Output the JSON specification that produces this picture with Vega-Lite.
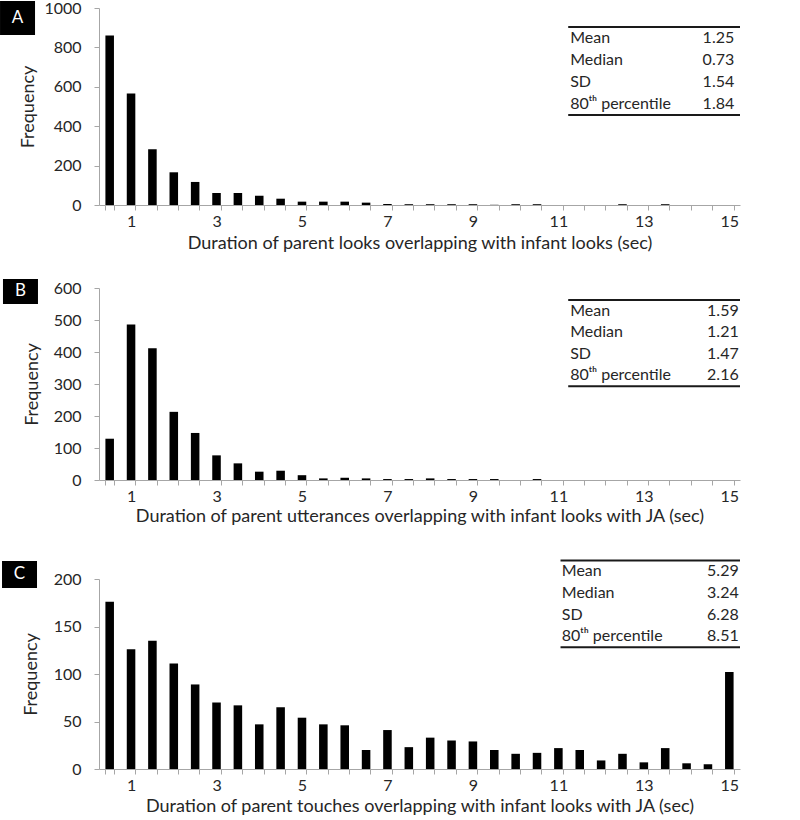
{
  "$schema": "https://vega.github.io/schema/vega-lite/v6.json",
  "padding": 0,
  "background": "white",
  "datasets": {
    "a": [
      {"bin": 0.5, "freq": 861}, {"bin": 1, "freq": 566}, {"bin": 1.5, "freq": 283}, {"bin": 2, "freq": 166},
      {"bin": 2.5, "freq": 117}, {"bin": 3, "freq": 61}, {"bin": 3.5, "freq": 61}, {"bin": 4, "freq": 47},
      {"bin": 4.5, "freq": 32}, {"bin": 5, "freq": 17}, {"bin": 5.5, "freq": 17}, {"bin": 6, "freq": 17},
      {"bin": 6.5, "freq": 12}, {"bin": 7, "freq": 5}, {"bin": 7.5, "freq": 4}, {"bin": 8, "freq": 4},
      {"bin": 8.5, "freq": 4}, {"bin": 9, "freq": 4}, {"bin": 9.5, "freq": 1}, {"bin": 10, "freq": 4},
      {"bin": 10.5, "freq": 4}, {"bin": 11, "freq": 0}, {"bin": 11.5, "freq": 0}, {"bin": 12, "freq": 0},
      {"bin": 12.5, "freq": 4}, {"bin": 13, "freq": 0}, {"bin": 13.5, "freq": 4}, {"bin": 14, "freq": 0},
      {"bin": 14.5, "freq": 0}, {"bin": 15, "freq": 0}
    ],
    "b": [
      {"bin": 0.5, "freq": 129}, {"bin": 1, "freq": 486}, {"bin": 1.5, "freq": 412}, {"bin": 2, "freq": 213},
      {"bin": 2.5, "freq": 147}, {"bin": 3, "freq": 77}, {"bin": 3.5, "freq": 52}, {"bin": 4, "freq": 26},
      {"bin": 4.5, "freq": 29}, {"bin": 5, "freq": 15}, {"bin": 5.5, "freq": 5}, {"bin": 6, "freq": 7},
      {"bin": 6.5, "freq": 5}, {"bin": 7, "freq": 3}, {"bin": 7.5, "freq": 3}, {"bin": 8, "freq": 5},
      {"bin": 8.5, "freq": 3}, {"bin": 9, "freq": 3}, {"bin": 9.5, "freq": 3}, {"bin": 10, "freq": 0},
      {"bin": 10.5, "freq": 3}, {"bin": 11, "freq": 0}, {"bin": 11.5, "freq": 0}, {"bin": 12, "freq": 0},
      {"bin": 12.5, "freq": 0}, {"bin": 13, "freq": 0}, {"bin": 13.5, "freq": 0}, {"bin": 14, "freq": 0},
      {"bin": 14.5, "freq": 0}, {"bin": 15, "freq": 0}
    ],
    "c": [
      {"bin": 0.5, "freq": 176}, {"bin": 1, "freq": 126}, {"bin": 1.5, "freq": 135}, {"bin": 2, "freq": 111},
      {"bin": 2.5, "freq": 89}, {"bin": 3, "freq": 70}, {"bin": 3.5, "freq": 67}, {"bin": 4, "freq": 47},
      {"bin": 4.5, "freq": 65}, {"bin": 5, "freq": 54}, {"bin": 5.5, "freq": 47}, {"bin": 6, "freq": 46},
      {"bin": 6.5, "freq": 20}, {"bin": 7, "freq": 41}, {"bin": 7.5, "freq": 23}, {"bin": 8, "freq": 33},
      {"bin": 8.5, "freq": 30}, {"bin": 9, "freq": 29}, {"bin": 9.5, "freq": 20}, {"bin": 10, "freq": 16},
      {"bin": 10.5, "freq": 17}, {"bin": 11, "freq": 22}, {"bin": 11.5, "freq": 20}, {"bin": 12, "freq": 9},
      {"bin": 12.5, "freq": 16}, {"bin": 13, "freq": 7}, {"bin": 13.5, "freq": 22}, {"bin": 14, "freq": 6},
      {"bin": 14.5, "freq": 5}, {"bin": 15, "freq": 102}
    ],
    "statsA": [
      {"stat": "Mean", "value": "1.25", "row": 1},
      {"stat": "Median", "value": "0.73", "row": 2},
      {"stat": "SD", "value": "1.54", "row": 3},
      {"stat": "80ᵗʰ percentile", "value": "1.84", "row": 4}
    ],
    "statsB": [
      {"stat": "Mean", "value": "1.59", "row": 1},
      {"stat": "Median", "value": "1.21", "row": 2},
      {"stat": "SD", "value": "1.47", "row": 3},
      {"stat": "80ᵗʰ percentile", "value": "2.16", "row": 4}
    ],
    "statsC": [
      {"stat": "Mean", "value": "5.29", "row": 1},
      {"stat": "Median", "value": "3.24", "row": 2},
      {"stat": "SD", "value": "6.28", "row": 3},
      {"stat": "80ᵗʰ percentile", "value": "8.51", "row": 4}
    ],
    "lines": [{"line": 0.5}, {"line": 4.5}]
  },
  "spacing": 26,
  "vconcat": [
    {
      "width": 641, "height": 197,
      "resolve": {"scale": {"x": "independent", "y": "independent"}},
      "layer": [
        {
          "data": {"name": "a"},
          "mark": {"type": "bar", "color": "black"},
          "encoding": {
            "x": {"field": "bin", "type": "ordinal", "scale": {"paddingInner": 0.6, "paddingOuter": 0.3},
              "axis": {"title": "Duration of parent looks overlapping with infant looks (sec)", "tickBand": "extent", "labelExpr": "datum.value % 2 == 1 ? datum.label : ''", "labelAngle": 0, "labelOverlap": false, "titlePadding": 5}},
            "y": {"field": "freq", "type": "quantitative", "scale": {"domain": [0, 1000]},
              "axis": {"title": "Frequency", "values": [0, 200, 400, 600, 800, 1000], "format": "d", "titlePadding": 6}}
          }
        },
        {
          "data": {"name": "statsA"},
          "mark": {"type": "text", "align": "left", "baseline": "middle", "fontSize": 16, "color": "#262626"},
          "encoding": {
            "x": {"datum": 0.735, "type": "quantitative", "scale": {"domain": [0, 1]}, "axis": null},
            "y": {"field": "row", "type": "quantitative", "scale": {"domain": [-0.364, 8.59], "reverse": true}, "axis": null},
            "text": {"field": "stat"}
          }
        },
        {
          "data": {"name": "statsA"},
          "mark": {"type": "text", "align": "right", "baseline": "middle", "fontSize": 16, "color": "#262626"},
          "encoding": {
            "x": {"datum": 0.991, "type": "quantitative", "scale": {"domain": [0, 1]}, "axis": null},
            "y": {"field": "row", "type": "quantitative", "scale": {"domain": [-0.364, 8.59], "reverse": true}, "axis": null},
            "text": {"field": "value"}
          }
        },
        {
          "data": {"name": "lines"},
          "mark": {"type": "rule", "color": "#1a1a1a", "strokeWidth": 2},
          "encoding": {
            "x": {"datum": 0.732, "type": "quantitative", "scale": {"domain": [0, 1]}, "axis": null},
            "x2": {"datum": 1.0},
            "y": {"field": "line", "type": "quantitative", "scale": {"domain": [-0.364, 8.59], "reverse": true}, "axis": null}
          }
        },
        {
          "data": {"values": [{"panel": "A"}]},
          "mark": {"type": "rect", "color": "black"},
          "encoding": {
            "x": {"datum": -0.1544, "type": "quantitative", "scale": {"domain": [0, 1]}, "axis": null},
            "x2": {"datum": -0.0998},
            "y": {"datum": -0.0355, "type": "quantitative", "scale": {"domain": [0, 1], "reverse": true}, "axis": null},
            "y2": {"datum": 0.137}
          }
        },
        {
          "data": {"values": [{"panel": "A"}]},
          "mark": {"type": "text", "color": "white", "fontSize": 17, "align": "center", "baseline": "middle"},
          "encoding": {
            "x": {"datum": -0.1271, "type": "quantitative", "scale": {"domain": [0, 1]}, "axis": null},
            "y": {"datum": 0.051, "type": "quantitative", "scale": {"domain": [0, 1], "reverse": true}, "axis": null},
            "text": {"field": "panel"}
          }
        }
      ]
    },
    {
      "spacing": 34,
      "vconcat": [
        {
          "width": 641, "height": 192,
          "resolve": {"scale": {"x": "independent", "y": "independent"}},
          "layer": [
            {
              "data": {"name": "b"},
              "mark": {"type": "bar", "color": "black"},
              "encoding": {
                "x": {"field": "bin", "type": "ordinal", "scale": {"paddingInner": 0.6, "paddingOuter": 0.3},
                  "axis": {"title": "Duration of parent utterances overlapping with infant looks with JA (sec)", "tickBand": "extent", "labelExpr": "datum.value % 2 == 1 ? datum.label : ''", "labelAngle": 0, "labelOverlap": false, "titlePadding": 3}},
                "y": {"field": "freq", "type": "quantitative", "scale": {"domain": [0, 600]},
                  "axis": {"title": "Frequency", "values": [0, 100, 200, 300, 400, 500, 600], "format": "d", "titlePadding": 12}}
              }
            },
            {
              "data": {"name": "statsB"},
              "mark": {"type": "text", "align": "left", "baseline": "middle", "fontSize": 16, "color": "#262626"},
              "encoding": {
                "x": {"datum": 0.735, "type": "quantitative", "scale": {"domain": [0, 1]}, "axis": null},
                "y": {"field": "row", "type": "quantitative", "scale": {"domain": [-0.05, 8.84], "reverse": true}, "axis": null},
                "text": {"field": "stat"}
              }
            },
            {
              "data": {"name": "statsB"},
              "mark": {"type": "text", "align": "right", "baseline": "middle", "fontSize": 16, "color": "#262626"},
              "encoding": {
                "x": {"datum": 0.998, "type": "quantitative", "scale": {"domain": [0, 1]}, "axis": null},
                "y": {"field": "row", "type": "quantitative", "scale": {"domain": [-0.05, 8.84], "reverse": true}, "axis": null},
                "text": {"field": "value"}
              }
            },
            {
              "data": {"name": "lines"},
              "mark": {"type": "rule", "color": "#1a1a1a", "strokeWidth": 2},
              "encoding": {
                "x": {"datum": 0.732, "type": "quantitative", "scale": {"domain": [0, 1]}, "axis": null},
                "x2": {"datum": 1.0},
                "y": {"field": "line", "type": "quantitative", "scale": {"domain": [-0.05, 8.84], "reverse": true}, "axis": null}
              }
            },
            {
              "data": {"values": [{"panel": "B"}]},
              "mark": {"type": "rect", "color": "black"},
              "encoding": {
                "x": {"datum": -0.1498, "type": "quantitative", "scale": {"domain": [0, 1]}, "axis": null},
                "x2": {"datum": -0.0952},
                "y": {"datum": -0.047, "type": "quantitative", "scale": {"domain": [0, 1], "reverse": true}, "axis": null},
                "y2": {"datum": 0.083}
              }
            },
            {
              "data": {"values": [{"panel": "B"}]},
              "mark": {"type": "text", "color": "white", "fontSize": 17, "align": "center", "baseline": "middle"},
              "encoding": {
                "x": {"datum": -0.1225, "type": "quantitative", "scale": {"domain": [0, 1]}, "axis": null},
                "y": {"datum": 0.018, "type": "quantitative", "scale": {"domain": [0, 1], "reverse": true}, "axis": null},
                "text": {"field": "panel"}
              }
            }
          ]
        },
        {
          "width": 641, "height": 190,
          "resolve": {"scale": {"x": "independent", "y": "independent"}},
          "layer": [
            {
              "data": {"name": "c"},
              "mark": {"type": "bar", "color": "black"},
              "encoding": {
                "x": {"field": "bin", "type": "ordinal", "scale": {"paddingInner": 0.6, "paddingOuter": 0.3},
                  "axis": {"title": "Duration of parent touches overlapping with infant looks with JA (sec)", "tickBand": "extent", "labelExpr": "datum.value % 2 == 1 ? datum.label : ''", "labelAngle": 0, "labelOverlap": false, "titlePadding": 4}},
                "y": {"field": "freq", "type": "quantitative", "scale": {"domain": [0, 200]},
                  "axis": {"title": "Frequency", "values": [0, 50, 100, 150, 200], "format": "d", "titlePadding": 13}}
              }
            },
            {
              "data": {"name": "statsC"},
              "mark": {"type": "text", "align": "left", "baseline": "middle", "fontSize": 16, "color": "#262626"},
              "encoding": {
                "x": {"datum": 0.722, "type": "quantitative", "scale": {"domain": [0, 1]}, "axis": null},
                "y": {"field": "row", "type": "quantitative", "scale": {"domain": [1.355, 10.11], "reverse": true}, "axis": null},
                "text": {"field": "stat"}
              }
            },
            {
              "data": {"name": "statsC"},
              "mark": {"type": "text", "align": "right", "baseline": "middle", "fontSize": 16, "color": "#262626"},
              "encoding": {
                "x": {"datum": 0.998, "type": "quantitative", "scale": {"domain": [0, 1]}, "axis": null},
                "y": {"field": "row", "type": "quantitative", "scale": {"domain": [1.355, 10.11], "reverse": true}, "axis": null},
                "text": {"field": "value"}
              }
            },
            {
              "data": {"name": "lines"},
              "mark": {"type": "rule", "color": "#1a1a1a", "strokeWidth": 2},
              "encoding": {
                "x": {"datum": 0.72, "type": "quantitative", "scale": {"domain": [0, 1]}, "axis": null},
                "x2": {"datum": 1.0},
                "y": {"field": "line", "type": "quantitative", "scale": {"domain": [1.355, 10.11], "reverse": true}, "axis": null}
              }
            },
            {
              "data": {"values": [{"panel": "C"}]},
              "mark": {"type": "rect", "color": "black"},
              "encoding": {
                "x": {"datum": -0.1513, "type": "quantitative", "scale": {"domain": [0, 1]}, "axis": null},
                "x2": {"datum": -0.0967},
                "y": {"datum": -0.095, "type": "quantitative", "scale": {"domain": [0, 1], "reverse": true}, "axis": null},
                "y2": {"datum": 0.047}
              }
            },
            {
              "data": {"values": [{"panel": "C"}]},
              "mark": {"type": "text", "color": "white", "fontSize": 17, "align": "center", "baseline": "middle"},
              "encoding": {
                "x": {"datum": -0.124, "type": "quantitative", "scale": {"domain": [0, 1]}, "axis": null},
                "y": {"datum": -0.024, "type": "quantitative", "scale": {"domain": [0, 1], "reverse": true}, "axis": null},
                "text": {"field": "panel"}
              }
            }
          ]
        }
      ]
    }
  ],
  "config": {
    "font": "Lato",
    "view": {"stroke": null},
    "axis": {
      "labelFont": "Lato", "titleFont": "Lato", "labelFontSize": 16, "titleFontSize": 18,
      "titleFontWeight": "normal", "labelColor": "#262626", "titleColor": "#262626",
      "domainColor": "#a6a6a6", "tickColor": "#a6a6a6", "tickSize": 5, "grid": false
    },
    "axisY": {"labelPadding": 13},
    "axisX": {"labelPadding": 3}
  }
}
